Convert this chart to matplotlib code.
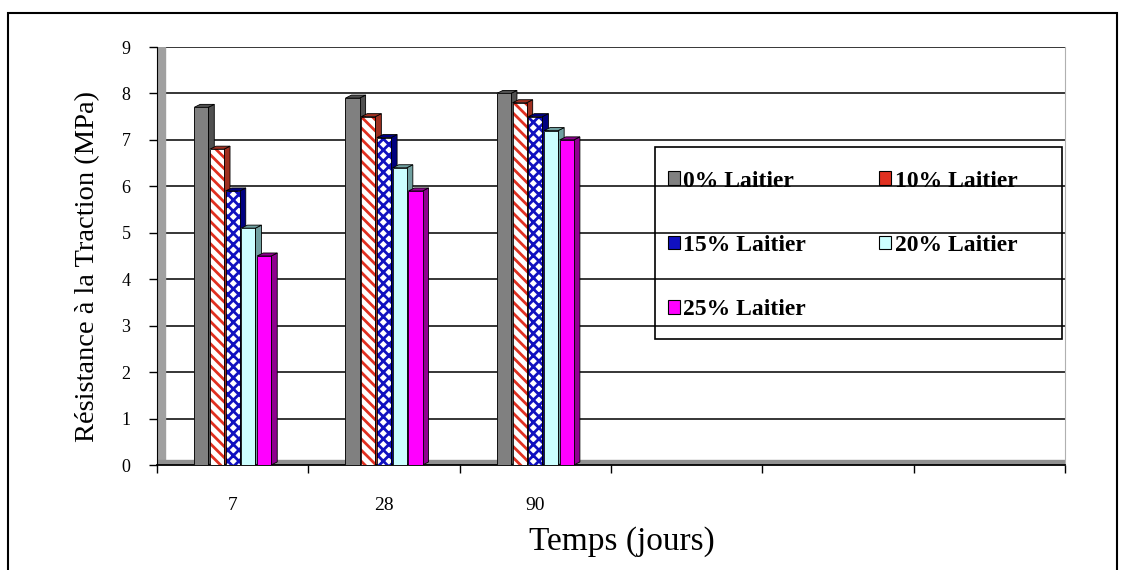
import matplotlib.pyplot as plt
from matplotlib.patches import Rectangle, Polygon

# donnees
temps = ["7", "28", "90", "", "", ""]
series = ["0% Laitier", "10% Laitier", "15% Laitier", "20% Laitier", "25% Laitier"]
r0 = [7.7, 7.9, 8.0]
r10 = [6.8, 7.5, 7.8]
r15 = [5.9, 7.05, 7.5]
r20 = [5.1, 6.4, 7.2]
r25 = [4.5, 5.9, 7.0]
valeurs = [r0, r10, r15, r20, r25]

faces = ["#808080", "white", "white", "#ccffff", "#ff00ff"]
hatch_col = [None, "#e03020", "#1010c0", None, None]
hatchs = [None, "\\\\\\", "xxx", None, None]
cotes = ["#505050", "#a03020", "#000080", "#70a0a0", "#900090"]
legende_col = ["#808080", "#e03020", "#1010c0", "#ccffff", "#ff00ff"]

plt.rcParams["font.family"] = ["Liberation Serif", "DejaVu Serif"]
plt.rcParams["hatch.linewidth"] = 2.0

fig = plt.figure(figsize=(11.25, 5.7), dpi=100)
ax = fig.add_axes([157/1125, 105/570, 908/1125, 418/570])

w = 0.093
pas = 0.104
d = 0.04
dy = 0.065
for i, vals in enumerate(valeurs):
    for j, h in enumerate(vals):
        x0 = j + (i - 2) * pas - w / 2
        # face laterale et dessus (effet 3D)
        ax.add_patch(Polygon([(x0 + w, 0), (x0 + w + d, dy), (x0 + w + d, h + dy), (x0 + w, h)],
                             closed=True, facecolor=cotes[i], edgecolor="black", lw=0.6, zorder=3 + i))
        ax.add_patch(Polygon([(x0, h), (x0 + d, h + dy), (x0 + w + d, h + dy), (x0 + w, h)],
                             closed=True, facecolor=cotes[i], edgecolor="black", lw=0.6, zorder=3 + i))
        ax.add_patch(Rectangle((x0, 0), w, h, facecolor=faces[i], edgecolor="none", zorder=3 + i))
        if hatchs[i]:
            ax.add_patch(Rectangle((x0, 0), w, h, facecolor="none", edgecolor=hatch_col[i],
                                   hatch=hatchs[i], lw=0, zorder=3 + i))
        ax.add_patch(Rectangle((x0, 0), w, h, facecolor="none", edgecolor="black", lw=0.6, zorder=3 + i))

# murs gris
ax.axvspan(-0.5, -0.445, color="#a0a0a0", zorder=2)
ax.axhspan(0, 0.1, color="#909090", zorder=2)

ax.set_xlim(-0.5, 5.5)
ax.set_ylim(0, 9)
ax.set_yticks(range(10))
ax.set_xticks(range(6))
ax.set_xticklabels(temps)
ax.set_xticks([k - 0.5 for k in range(7)], minor=True)
ax.tick_params(axis="x", which="major", length=0, pad=23, labelsize=14)
ax.tick_params(axis="x", which="minor", length=6, width=1, direction="out")
ax.tick_params(axis="y", length=6, width=1, direction="out", labelsize=13, pad=13)
ax.yaxis.grid(True, color="black", lw=1.1, zorder=1)
ax.set_axisbelow(True)
ax.spines["top"].set_visible(False)
ax.spines["right"].set_color("#b0b0b0")
ax.spines["left"].set_color("black")
ax.spines["bottom"].set_linewidth(1.3)

ax.set_ylabel("Résistance à la Traction (MPa)", fontsize=20.5)
ax.yaxis.set_label_coords(-0.063, 0.474)
ax.set_xlabel("Temps (jours)", fontsize=24, labelpad=9, x=0.512)

# legende
poignees = [Rectangle((0, 0), 1, 1, facecolor=c, edgecolor="black", lw=0.8) for c in legende_col]
ordre = [0, 2, 4, 1, 3]
leg = ax.legend([poignees[k] for k in ordre], [series[k] for k in ordre],
                ncol=2, loc="upper left", bbox_to_anchor=(0.5625, 0.7045),
                frameon=False, handlelength=0.5, handleheight=0.5, handletextpad=0.15,
                labelspacing=1.84, columnspacing=3.1, prop={"weight": "bold", "size": 17},
                borderpad=0, borderaxespad=0)
leg.set_zorder(20)
ax.add_patch(Rectangle((0.5485, 0.3014), 0.4482, 0.4594, transform=ax.transAxes,
                       fill=False, edgecolor="black", lw=1.2, zorder=20))

# cadre de la figure
fig.patches.append(Rectangle((8/1125, -0.01), 1109/1125, (570-13)/570 + 0.01, transform=fig.transFigure,
                             fill=False, edgecolor="black", lw=1.5))

fig.savefig("out.png", dpi=100)
